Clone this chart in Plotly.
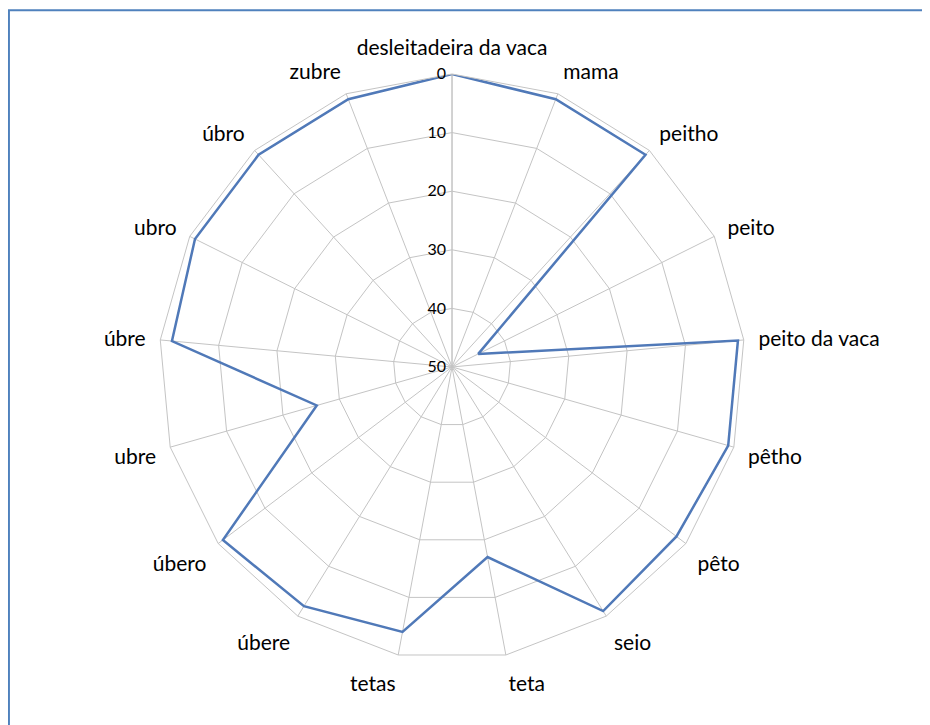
import plotly.graph_objects as go

categories = ['desleitadeira da vaca', 'mama', 'peitho', 'peito', 'peito da vaca',
              'pêtho', 'pêto', 'seio', 'teta', 'tetas', 'úbere', 'úbero',
              'ubre', 'úbre', 'ubro', 'úbro', 'zubre']
values = [0, 1, 1, 45, 1, 1, 2, 1, 17, 4, 2, 1, 26, 2, 1, 1, 1]
radial_ticks = [0, 10, 20, 30, 40, 50]

grid_col = '#C4C4C4'

fig = go.Figure()
fig.add_trace(go.Scatterpolar(
    r=values + [values[0]],
    theta=categories + [categories[0]],
    mode='lines',
    line=dict(color='#5079B8', width=2.5),
    showlegend=False,
))

fig.update_layout(
    width=930, height=725,
    margin=dict(l=0, r=0, t=0, b=0),
    paper_bgcolor='white',
    font=dict(family='Lato, Open Sans, sans-serif', size=21, color='black'),
    polar=dict(
        domain=dict(x=[0.1624, 0.7925], y=[0.1007, 0.909]),
        bgcolor='white',
        gridshape='linear',
        angularaxis=dict(
            direction='clockwise',
            rotation=90,
            showgrid=True,
            gridcolor=grid_col,
            gridwidth=1,
            showline=True,
            linecolor=grid_col,
            linewidth=1,
            # invisible ticks just to push the labels a bit further out
            ticks='outside',
            ticklen=10,
            tickcolor='rgba(0,0,0,0)',
            tickfont=dict(size=21),
        ),
        radialaxis=dict(
            range=[50, 0],
            tickvals=radial_ticks,
            angle=90,
            tickangle=90,
            side='counterclockwise',
            showgrid=True,
            gridcolor=grid_col,
            gridwidth=1,
            showline=True,
            linecolor=grid_col,
            ticks='',
            tickfont=dict(size=16),
        ),
    ),
    shapes=[dict(
        type='rect', xref='paper', yref='paper',
        x0=0.001, x1=0.994, y0=-0.05, y1=0.997,
        line=dict(color='#4F81BD', width=2),
    )],
)

fig.write_html("out.html")
